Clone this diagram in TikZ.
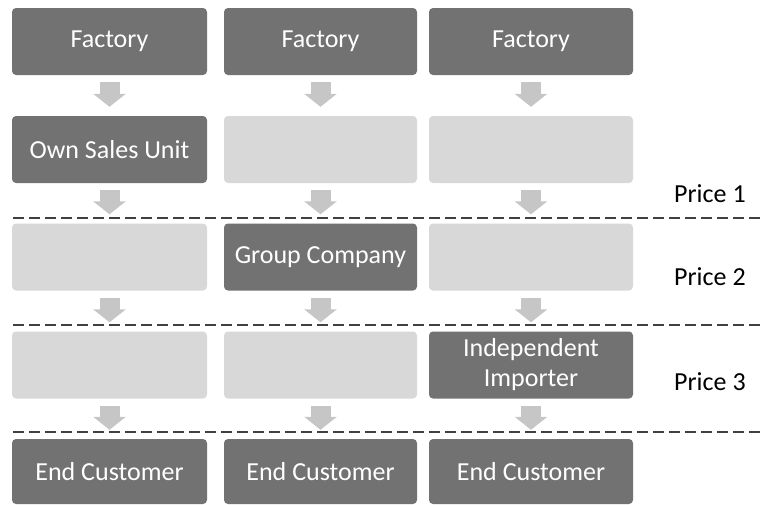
\documentclass[tikz,border=0pt]{standalone}
\usepackage{fontspec}
\setmainfont{Carlito}
\usetikzlibrary{arrows.meta}
\definecolor{dk}{HTML}{727272}
\definecolor{lt}{HTML}{D8D8D8}
\definecolor{arr}{HTML}{C6C6C6}
\definecolor{dashc}{HTML}{404040}
\begin{document}
\begin{tikzpicture}[x=1pt,y=-1pt,
  box/.style={rounded corners=4pt, minimum height=67pt, inner sep=0pt, align=center,
    font=\fontsize{26}{30}\selectfont},
  dkbox/.style={box, fill=dk, text=white},
  ltbox/.style={box, fill=lt},
  cA/.style={minimum width=195pt},
  cB/.style={minimum width=193pt},
  cC/.style={minimum width=204pt},
  flow/.style={line width=20pt, draw=arr, -{Triangle[width=32pt,length=13pt]},
    shorten <=7pt, shorten >=9pt},
  sep/.style={draw=dashc, line width=2pt, dash pattern=on 11pt off 5pt},
  price/.style={font=\fontsize{26}{30}\selectfont, anchor=west, inner sep=0pt}]
\useasboundingbox (0,0) rectangle (760,504);
% row 1
\node[dkbox,cA] (a1) at (109.5,41.5) {Factory};
\node[dkbox,cB] (b1) at (320.5,41.5) {Factory};
\node[dkbox,cC] (c1) at (531,41.5) {Factory};
% row 2
\node[dkbox,cA] (a2) at (109.5,149.5) {Own Sales Unit};
\node[ltbox,cB] (b2) at (320.5,149.5) {};
\node[ltbox,cC] (c2) at (531,149.5) {};
% row 3
\node[ltbox,cA] (a3) at (109.5,257) {};
\node[dkbox,cB] (b3) at (320.5,257) {Group Company};
\node[ltbox,cC] (c3) at (531,257) {};
% row 4
\node[ltbox,cA] (a4) at (109.5,365) {};
\node[ltbox,cB] (b4) at (320.5,365) {};
\node[dkbox,cC] (c4) at (531,365) {Independent\\Importer};
% row 5
\node[dkbox,cA,minimum height=65pt] (a5) at (109.5,471.5) {End Customer};
\node[dkbox,cB,minimum height=65pt] (b5) at (320.5,471.5) {End Customer};
\node[dkbox,cC,minimum height=65pt] (c5) at (531,471.5) {End Customer};
% arrows
\foreach \c in {a,b,c}{
  \draw[flow] (\c1) -- (\c2);
  \draw[flow] (\c2) -- (\c3);
  \draw[flow] (\c3) -- (\c4);
  \draw[flow] (\c4) -- (\c5);
}
% separators
\coordinate (s1l) at (13,218); \coordinate (s1r) at (760,218);
\coordinate (s2l) at (13,325); \coordinate (s2r) at (760,325);
\coordinate (s3l) at (13,432); \coordinate (s3r) at (760,432);
\draw[sep] (s1l) -- (s1r);
\draw[sep] (s2l) -- (s2r);
\draw[sep] (s3l) -- (s3r);
% price labels
\node[price] (p1) at (674,194) {Price 1};
\node[price] (p2) at (674,277) {Price 2};
\node[price] (p3) at (674,382) {Price 3};
\end{tikzpicture}
\end{document}
